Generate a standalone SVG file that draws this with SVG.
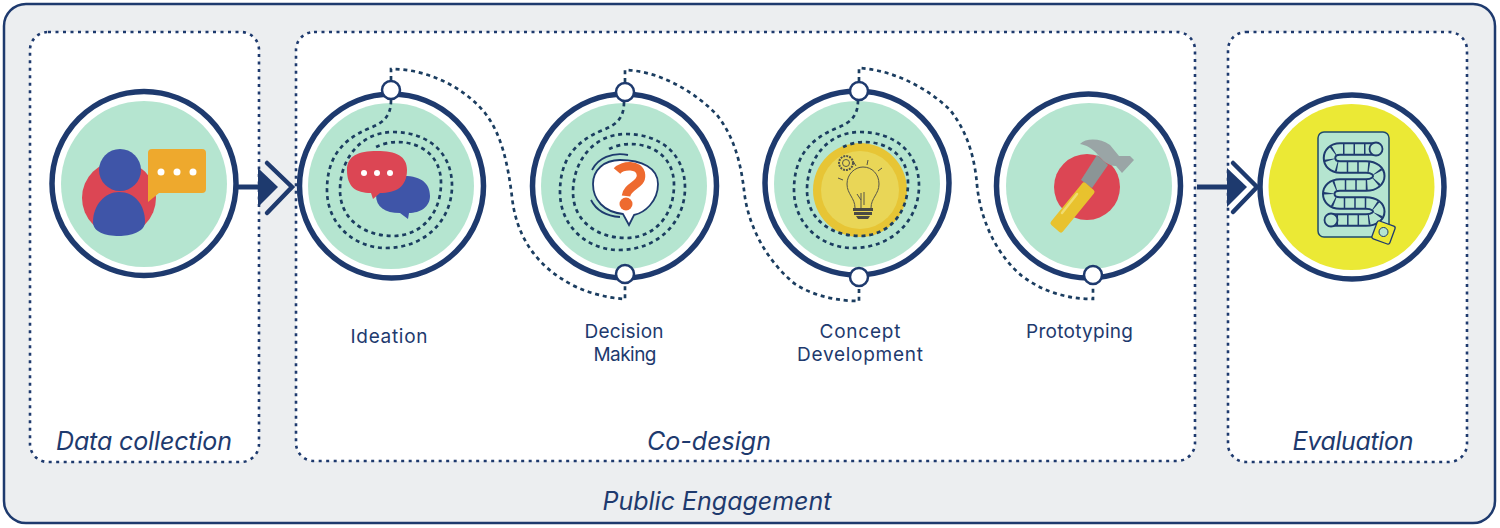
<svg xmlns="http://www.w3.org/2000/svg" xmlns:xlink="http://www.w3.org/1999/xlink" width="1500" height="528" viewBox="0 0 1500 528">
<style>
.panel{fill:#fff;stroke:#1e3a6e;stroke-width:2.600;stroke-dasharray:3 4.500}
.ring{fill:#fff;stroke:#1e3a6e;stroke-width:5.500}
.mint{fill:#b5e5d0}
.dash{fill:none;stroke:#1b3d60;stroke-width:2.700;stroke-dasharray:4 3.800}
.port{fill:#fff;stroke:#1e3a6e;stroke-width:2.500}
.shaft{fill:none;stroke:#1e3a6e;stroke-width:5}
.chev{fill:none;stroke:#1e3a6e;stroke-width:4.500;stroke-linecap:round;stroke-linejoin:miter}
.head{fill:#1e3a6e}
text{font-family:"Inter","Noto Sans","Liberation Sans",sans-serif;fill:#1e3a6e}
.cap{font-size:25px;font-style:italic;text-anchor:middle}
.lab{font-size:19px;text-anchor:middle}
.track{fill:none;stroke-linejoin:round}
</style>
<defs>
<path id="spiral" class="dash" d="M391,100 C391,115 385,122 370,128 C340,140 327,160 327,190 C327,225 355,248 386,248 C425,248 452,220 452,186 C452,150 425,132 393,132 C360,132 340,160 340,190 C340,220 365,236 393,236 C420,236 441,215 441,183 C441,155 420,142 397,142 C390,142 382,144 376,147"/>
<path id="snake" d="M1376,149 H1340 C1326,149 1326,167 1340,167 H1366 C1383,167 1383,185 1366,185 H1340 C1325,185 1325,203 1340,203 H1366 C1383,203 1383,220 1366,220 H1332"/>
</defs>
<g id="frame">
<rect x="4" y="4" width="1491" height="519" rx="22" fill="#eceef0" stroke="#1e3a6e" stroke-width="2.500"/>
<text class="cap" x="717" y="510" textLength="229">Public Engagement</text>
</g>
<g id="panel-data">
<rect class="panel" x="30" y="32" width="229" height="430" rx="18"/>
<text class="cap" x="144" y="450" textLength="176">Data collection</text>
</g>
<g id="panel-codesign">
<rect class="panel" x="296" y="32" width="899" height="429" rx="18"/>
<text class="cap" x="709" y="450" textLength="124">Co-design</text>
</g>
<g id="panel-eval">
<rect class="panel" x="1228" y="32" width="239" height="430" rx="18"/>
<text class="cap" x="1353" y="450" textLength="121">Evaluation</text>
</g>

<g id="node-data">
<circle class="ring" cx="144" cy="183.500" r="92"/>
<circle class="mint" cx="144" cy="184" r="83"/>
<circle cx="119" cy="198" r="37" fill="#dc4654"/>
<circle cx="120" cy="170" r="21" fill="#3f55a8"/>
<path d="M93,222 C93,205 105,192 119,192 C135,192 145,205 145,222 C145,232 130,236 119,236 C105,236 93,232 93,222Z" fill="#3f55a8"/>
<path d="M152,149 H202 Q206,149 206,153 V189 Q206,193 202,193 H159 L148,202 V153 Q148,149 152,149Z" fill="#eea92d"/>
<circle cx="161" cy="172" r="3.500" fill="#fff"/><circle cx="177" cy="172" r="3.500" fill="#fff"/><circle cx="193" cy="172" r="3.500" fill="#fff"/>
</g>

<g id="node-ideation">
<circle class="ring" cx="391.500" cy="186" r="92"/>
<circle class="mint" cx="391" cy="186" r="83"/>
<use xlink:href="#spiral" href="#spiral"/>
<path d="M376,195 C376,183 386,176 404,176 C422,176 430,184 430,196 C430,207 420,213 409,213 L408,219 L400,213 C385,213 376,207 376,195Z" fill="#3f55a8"/>
<path d="M347,170 C347,156 358,151 377,151 C396,151 407,156 407,170 C407,187 396,193 380,193 L373,199 L371,193 C356,193 347,187 347,170Z" fill="#dc4654"/>
<circle cx="364" cy="173" r="3" fill="#fff"/><circle cx="377" cy="173" r="3" fill="#fff"/><circle cx="390" cy="173" r="3" fill="#fff"/>
<circle class="port" cx="391" cy="90" r="9"/>
<text class="lab" x="389" y="343" textLength="77">Ideation</text>
</g>

<g id="node-decision">
<circle class="ring" cx="624.500" cy="186" r="92"/>
<circle class="mint" cx="624" cy="186" r="83"/>
<use xlink:href="#spiral" href="#spiral" transform="translate(233,2)"/>
<path d="M620,160 C642,160 658,168 658,184 C658,202 644,213 634,215 L629,225 L623,214 C604,212 593,200 593,184 C593,170 604,160 620,160Z" fill="#fff" stroke="#1e3a6e" stroke-width="1.800"/>
<path d="M592,170 C598,158 612,152 628,155" fill="none" stroke="#1e3a6e" stroke-width="1.800"/>
<path d="M591,200 C596,210 606,216 620,217" fill="none" stroke="#1e3a6e" stroke-width="1.800"/>
<path d="M617,171 C622,165 640,163 641,175 C642,185 627,186 626,196" fill="none" stroke="#ee6a2f" stroke-width="8.500"/>
<circle cx="626" cy="204" r="6.500" fill="#ee6a2f"/>
<circle class="port" cx="625" cy="92" r="9"/>
<circle class="port" cx="625" cy="274" r="9"/>
<text class="lab" x="624" y="338" textLength="79">Decision</text>
<text class="lab" x="625" y="361" textLength="63">Making</text>
</g>

<g id="node-concept">
<circle class="ring" cx="857" cy="183" r="92"/>
<circle class="mint" cx="857" cy="184" r="83"/>
<circle cx="860" cy="190" r="47" fill="#e7c535"/>
<circle cx="860" cy="190" r="39" fill="#e9d657"/>
<use xlink:href="#spiral" href="#spiral" transform="translate(467,0)"/>
<g fill="none" stroke="#55554a" stroke-width="1">
<path d="M855,208 C855,198 847,194 847,184 C847,174 855,167 863,167 C872,167 879,174 879,184 C879,194 871,198 871,208"/>
<path d="M861,208 V193 M861,200 L857,194 M864,205 V192"/>
<circle cx="846" cy="163" r="7" stroke-dasharray="2 1" stroke-width="2"/><circle cx="846" cy="163" r="3.500"/>
<path d="M843,180 L838,178 M856,166 L853,161 M867,165 L868,160 M878,171 L882,168"/>
</g>
<path d="M853,208 H873 V211 H853Z M854,212 H872 V215 H854Z M856,216 H870 L868,219 H858Z" fill="#4a4a44"/>
<circle class="port" cx="859" cy="91" r="9"/>
<circle class="port" cx="859" cy="277" r="9"/>
<text class="lab" x="860" y="338" textLength="81">Concept</text>
<text class="lab" x="860" y="361" textLength="126">Development</text>
</g>

<g id="node-prototyping">
<circle class="ring" cx="1088.500" cy="186" r="92"/>
<circle class="mint" cx="1089" cy="186" r="83"/>
<circle cx="1087" cy="187" r="33" fill="#dc4654"/>
<path d="M1097,155 L1108,165 L1092,188 L1081,180Z" fill="#8b9596"/>
<path d="M1080,144 C1086,138 1100,138 1110,145 L1119,156 L1130,156 L1134,160 L1122,173 L1116,166 C1108,166 1102,160 1098,155 C1092,148 1086,145 1080,144Z" fill="#9aa5a6"/>
<path d="M1084,185 L1092,192 L1061,230 L1053,223Z" fill="#e8c22e" stroke="#e8c22e" stroke-width="5" stroke-linejoin="round"/>
<path d="M1077,194 L1062,213" stroke="#f0dc70" stroke-width="2.500" stroke-linecap="round" fill="none"/>
<circle class="port" cx="1093" cy="275" r="9"/>
<text class="lab" x="1079.500" y="338" textLength="107">Prototyping</text>
</g>

<g id="node-evaluation">
<circle class="ring" cx="1352" cy="187" r="92"/>
<circle cx="1351.500" cy="187" r="83" fill="#ebe935"/>
<rect x="1318" y="132" width="71" height="105" rx="6" fill="#b5e5d0" stroke="#1f4a6b" stroke-width="1.500"/>
<use xlink:href="#snake" href="#snake" class="track" stroke="#1e3a6e" stroke-width="13.500"/>
<use xlink:href="#snake" href="#snake" class="track" stroke="#b5e5d0" stroke-width="9.500"/>
<use xlink:href="#snake" href="#snake" class="track" stroke="#1e3a6e" stroke-width="10" stroke-dasharray="1.500 9"/>
<circle cx="1376" cy="149" r="6.500" fill="#b5e5d0" stroke="#1e3a6e" stroke-width="1.800"/>
<circle cx="1331" cy="220" r="6.500" fill="#b5e5d0" stroke="#1e3a6e" stroke-width="1.800"/>
<rect x="1374" y="223" width="19" height="19" rx="2" transform="rotate(20 1383.500 232.500)" fill="#ebe935" stroke="#1e3a6e" stroke-width="1.300"/>
<circle cx="1383.500" cy="232" r="4.500" fill="#b5e5d0" stroke="#1e3a6e" stroke-width="1"/>
</g>

<g id="connectors">
<path class="dash" d="M391,80 V69 C425,69 462,85 485,113 C502,135 508,165 512,197 C516,235 535,262 562,279 C580,291 605,298 625,299 V284"/>
<path class="dash" d="M625,82 V70 C660,71 695,92 717,115 C735,138 741,165 744,190 C748,228 768,262 795,284 C815,297 840,301 859,301 V287"/>
<path class="dash" d="M859,81 V68 C895,70 930,90 950,110 C968,132 975,160 977,185 C981,225 1000,258 1022,276 C1043,292 1068,299 1093,299 V285"/>
<path class="shaft" d="M237,187 H262"/>
<path class="head" d="M258,168 L278,187 L258,207Z"/>
<path class="chev" d="M267,163 L292,187 L267,213"/>
<path class="shaft" d="M1197,187 H1230"/>
<path class="head" d="M1227,168 L1247,187 L1227,207Z"/>
<path class="chev" d="M1233,163 L1257,187 L1233,212"/>
</g>
</svg>
